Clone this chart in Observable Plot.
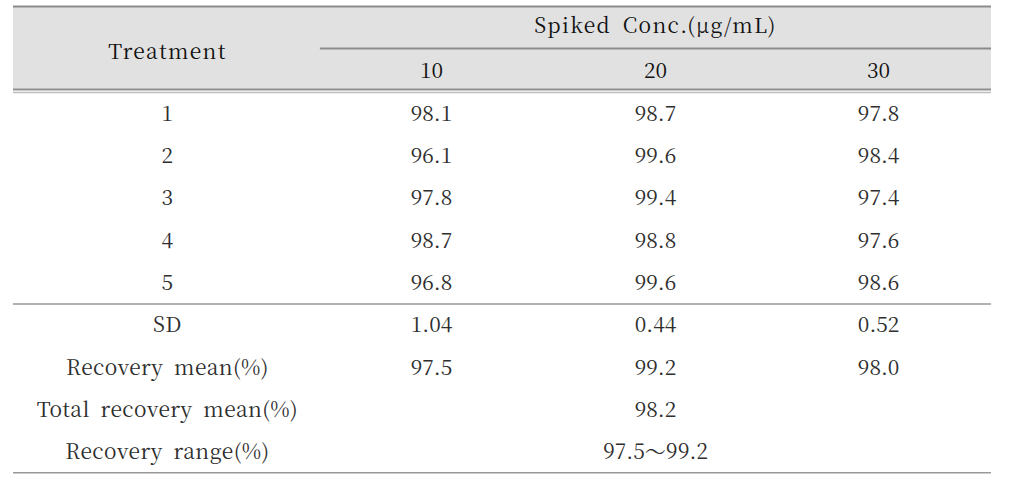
<!DOCTYPE html>
<html><head><meta charset="utf-8">
<script src="https://cdn.jsdelivr.net/npm/d3@7"></script>
<script src="https://cdn.jsdelivr.net/npm/@observablehq/plot@0.6"></script>
<style>body{margin:0;background:#fff}</style>
</head><body><div id="chart"></div>
<script>
// ---- data ----
const treatments = ["1", "2", "3", "4", "5"];
const concentrations = ["10", "20", "30"];
const recovery10 = [98.1, 96.1, 97.8, 98.7, 96.8];
const recovery20 = [98.7, 99.6, 99.4, 98.8, 99.6];
const recovery30 = [97.8, 98.4, 97.4, 97.6, 98.6];
const sdValues = [1.04, 0.44, 0.52];
const meanValues = [97.5, 99.2, 98.0];
const totalMean = 98.2;
const rangeLow = 97.5;
const rangeHigh = 99.2;
const summaryLabels = ["SD", "Recovery mean(%)", "Total recovery mean(%)", "Recovery range(%)"];
const headerTitle = "Treatment";
const headerGroup = "Spiked Conc.(μg/mL)";

// ---- layout (column units: col "10" = 0, col "20" = 1; row units: row "1" = 0) ----
const colPos = [-1.179, 0, 1, 1.996];
const L = {
  left: -1.866, right: 2.5, groupLeft: -0.496,
  top: -2.54, groupRule: -1.55, headBottom: -0.58, headBottom2: -0.51,
  sep: 4.49, bottom: 8.48,
  groupRow: -2.08, colRow: -1, titleRow: -1.47
};

const series = [recovery10, recovery20, recovery30];
const body = [];
treatments.forEach((t, i) => {
  body.push({c: 0, r: i, t});
  series.forEach((s, j) => body.push({c: j + 1, r: i, t: s[i].toFixed(1)}));
});
const nT = treatments.length;
body.push({c: 0, r: nT, t: summaryLabels[0]});
sdValues.forEach((v, j) => body.push({c: j + 1, r: nT, t: v.toFixed(2)}));
body.push({c: 0, r: nT + 1, t: summaryLabels[1]});
meanValues.forEach((v, j) => body.push({c: j + 1, r: nT + 1, t: v.toFixed(1)}));
body.push({c: 0, r: nT + 2, t: summaryLabels[2]});
body.push({c: 2, r: nT + 2, t: totalMean.toFixed(1)});
body.push({c: 0, r: nT + 3, t: summaryLabels[3]});
body.push({c: 2, r: nT + 3, t: `${rangeLow.toFixed(1)}～${rangeHigh.toFixed(1)}`});

const header = [
  {c: 0, r: L.titleRow, t: headerTitle},
  {c: 2, r: L.groupRow, t: headerGroup},
  ...concentrations.map((t, j) => ({c: j + 1, r: L.colRow, t}))
];

const font = "Noto Serif CJK KR";

const chart = Plot.plot({
  width: 1015, height: 486,
  marginTop: 0, marginBottom: 0, marginLeft: 0, marginRight: 0,
  style: {fontFamily: font, background: "#fff"},
  x: {type: "linear", domain: [0, 1], range: [431, 655], axis: null},
  y: {type: "linear", domain: [0, 1], range: [113.5, 155.8], axis: null},
  marks: [
    Plot.rect([0], {x1: () => L.left, x2: () => L.right, y1: () => L.top, y2: () => L.headBottom, fill: "#e1e1e1"}),
    Plot.ruleY([L.top], {y: d => d, x1: () => L.left, x2: () => L.right, stroke: "#8c8c8c", strokeWidth: 2}),
    Plot.ruleY([L.groupRule], {y: d => d, x1: () => L.groupLeft, x2: () => L.right, stroke: "#8c8c8c", strokeWidth: 2}),
    Plot.ruleY([L.headBottom], {y: d => d, x1: () => L.left, x2: () => L.right, stroke: "#8f8f8f", strokeWidth: 2}),
    Plot.ruleY([L.headBottom2], {y: d => d, x1: () => L.left, x2: () => L.right, stroke: "#bdbdbd", strokeWidth: 1.5}),
    Plot.ruleY([L.sep, L.bottom], {y: d => d, x1: () => L.left, x2: () => L.right, stroke: "#999", strokeWidth: 1.5}),
    Plot.text(header, {x: d => colPos[d.c], y: "r", text: "t", fontSize: 21, fill: "#111"}),
    Plot.text(body, {x: d => colPos[d.c], y: "r", text: "t", fontSize: 21, fill: "#2e2e2e"})
  ]
});

d3.select(chart).selectAll("text")
  .style("font-family", font)
  .filter(function() { return /[A-Za-z]/.test(this.textContent); })
  .attr("word-spacing", "5px")
  .attr("letter-spacing", function() { return /Treatment|Spiked/.test(this.textContent) ? "1.3px" : "0.4px"; });

document.getElementById("chart").appendChild(chart);
</script>
</body></html>
